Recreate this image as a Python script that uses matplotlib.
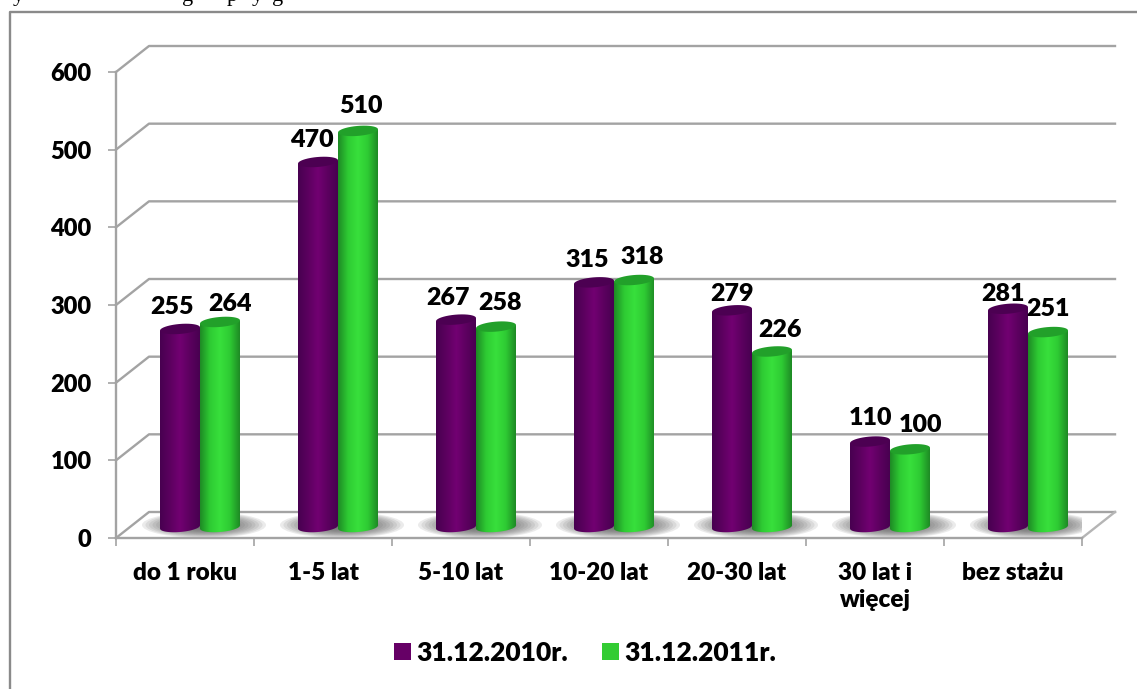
import matplotlib
matplotlib.use('Agg')
import matplotlib.pyplot as plt
import numpy as np
from matplotlib.patches import Ellipse, PathPatch, Patch
from matplotlib.path import Path
from matplotlib.colors import LinearSegmentedColormap

plt.rcParams['font.family'] = ['Lato', 'DejaVu Sans']
plt.rcParams['font.weight'] = 800

kategorie = ['do 1 roku', '1-5 lat', '5-10 lat', '10-20 lat', '20-30 lat', '30 lat i\nwięcej', 'bez stażu']
serie_2010 = [255, 470, 267, 315, 279, 110, 281]
serie_2011 = [264, 510, 258, 318, 226, 100, 251]
nazwy = ['31.12.2010r.', '31.12.2011r.']
y_ticks = [0, 100, 200, 300, 400, 500, 600]

# przesuniecia etykiet w pikselach wzgledem wierzcholka slupka
off_2010 = [(-8, 22), (-6, 22), (-8, 22), (-7, 22), (0, 16), (0, 24), (-5, 15)]
off_2011 = [(10, 18), (3, 25), (4, 24), (8, 23), (8, 21), (11, 24), (0, 23)]

W, H = 1137, 689
fig = plt.figure(figsize=(W / 100, H / 100), dpi=100)
ax = fig.add_axes([116 / W, 1 - 538 / H, 966 / W, 466 / H])
ax.set_xlim(0, 7)
ax.set_ylim(0, 600)

px_x = 7 / 966          # jednostki osi na piksel
px_y = 600 / 466
gleb_x, gleb_y = 33 * px_x, 26 * px_y
szary = '#a3a3a3'
lw = 1.7

# ramka i obciety tekst nad wykresem
fig.add_artist(plt.Line2D([9.5 / W, 9.5 / W, 1], [0, 1 - 11.5 / H, 1 - 11.5 / H], color='#8a8a8a', lw=1.7))
for lit, xp in zip('ygpyg', [18, 188, 232, 257, 278]):
    fig.text(xp / W, 1 - 1 / H, lit, family='Liberation Serif', fontsize=16, weight='normal',
             ha='center', va='baseline', color='black')

# siatka: sciana tylna i skosy
for v in y_ticks:
    ax.plot([0, gleb_x, 7 + gleb_x], [v, v + gleb_y, v + gleb_y], color=szary, lw=lw, clip_on=False, zorder=1)
ax.plot([7, 7 + gleb_x], [0, gleb_y], color='#b5b5b5', lw=lw, clip_on=False, zorder=1)

ax.spines['top'].set_visible(False)
ax.spines['right'].set_visible(False)
for s in ['left', 'bottom']:
    ax.spines[s].set_color(szary)
    ax.spines[s].set_linewidth(lw)
ax.patch.set_visible(False)

ax.set_yticks(y_ticks)
ax.tick_params(axis='y', length=5.5, width=1.2, color=szary, pad=12, labelsize=17)
ax.set_xticks(range(8))
ax.set_xticklabels([''] * 8)
ax.tick_params(axis='x', length=6, width=1.2, color=szary)
ax.set_xticks(np.arange(7) + 0.5, kategorie, minor=True, linespacing=1.3)
ax.tick_params(axis='x', which='minor', length=0, pad=17, labelsize=17.5)
for t in ax.get_xticklabels(minor=True):
    t.set_verticalalignment('top')

kolory_2010 = LinearSegmentedColormap.from_list('f', ['#480050', '#5c005f', '#720072', '#5c005f', '#480050'])
kolory_2011 = LinearSegmentedColormap.from_list('z', ['#1e8a25', '#2ecb33', '#38e03c', '#2ecb33', '#1e8a25'])
grad = np.linspace(0, 1, 128).reshape(1, -1)

szer = 40 * px_x
baza = 11 * px_y
a_el = 5 * px_y
skos = 1.6 * px_y


def elipsa(xc, yc, n=40):
    t = np.linspace(0, 2 * np.pi, n)
    return xc + szer / 2 * np.cos(t), yc + a_el * np.sin(t) + skos * np.cos(t)


def cylinder(xc, wart, cmap, kolor_gory, z):
    y0, y1 = baza, baza + wart
    t = np.linspace(np.pi, 2 * np.pi, 30)
    dol_x = xc + szer / 2 * np.cos(t)
    dol_y = y0 + a_el * np.sin(t) + skos * np.cos(t)
    xs = np.r_[dol_x, xc + szer / 2, xc - szer / 2, dol_x[0]]
    ys = np.r_[dol_y, y1 + skos, y1 - skos, dol_y[0]]
    sciezka = Path(np.c_[xs, ys])
    im = ax.imshow(grad, cmap=cmap, aspect='auto', extent=[xc - szer / 2, xc + szer / 2, y0 - a_el * 2, y1 + a_el * 2],
                   zorder=z, interpolation='bilinear')
    im.set_clip_path(PathPatch(sciezka, transform=ax.transData))
    ex, ey = elipsa(xc, y1)
    ax.fill(ex, ey, color=kolor_gory, lw=0, zorder=z + 0.1, clip_on=False)
    return y1


# cienie na podlodze
for i in range(7):
    c = i + 0.5 + 15 * px_x
    for k in np.linspace(1, 0.15, 16):
        ax.add_patch(Ellipse((c + 4 * px_x, baza + 2 * px_y), 2 * k * 62 * px_x, 2 * k * 13 * px_y,
                             color='#606060', alpha=0.12, lw=0, zorder=2))

for i in range(7):
    c = i + 0.5 + 15 * px_x
    xp, xz = c - szer / 2, c + szer / 2
    yp = cylinder(xp, serie_2010[i], kolory_2010, '#4c0052', 3)
    yz = cylinder(xz, serie_2011[i], kolory_2011, '#22a02a', 4)
    ax.annotate(str(serie_2010[i]), (xp, yp), xytext=off_2010[i], textcoords='offset pixels',
                ha='center', va='center', fontsize=18, zorder=6, annotation_clip=False)
    ax.annotate(str(serie_2011[i]), (xz, yz), xytext=off_2011[i], textcoords='offset pixels',
                ha='center', va='center', fontsize=18, zorder=6, annotation_clip=False)

ax.set_xlim(0, 7)
ax.set_ylim(0, 600)

uchwyty = [Patch(color='#660066', lw=0), Patch(color='#33cc33', lw=0)]
fig.legend(uchwyty, nazwy, loc='center', bbox_to_anchor=(585 / W, 1 - 653 / H), ncol=2, frameon=False,
           fontsize=19, handlelength=0.64, handleheight=0.64, handletextpad=0.2, columnspacing=1.3)

fig.savefig('out.png', dpi=100)
